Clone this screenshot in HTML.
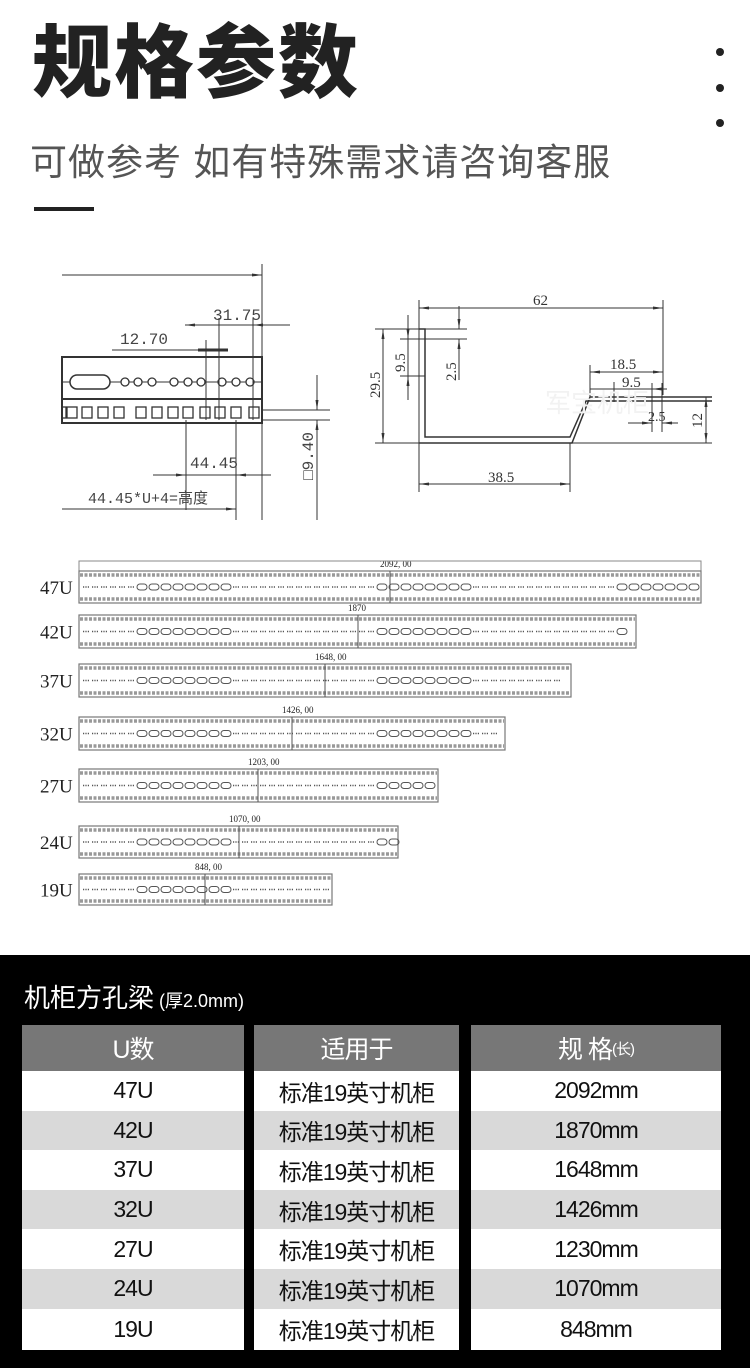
<!DOCTYPE html>
<html><head><meta charset="utf-8"><style>
body{margin:0;width:750px;height:1368px;background:#fff;position:relative;overflow:hidden;font-family:"Liberation Sans","Noto Sans CJK SC",sans-serif}
.abs{position:absolute}
.t{font-size:80px;font-weight:900;left:32px;top:24px;color:#222;letter-spacing:2px;line-height:1}
.sub{font-size:37px;left:30px;top:132px;color:#555;letter-spacing:1px;white-space:nowrap}
.dot{width:8px;height:8px;border-radius:50%;background:#222;left:716px}
.blk{left:0;top:955px;width:750px;height:413px;background:#000}
.cell{position:absolute;display:flex;align-items:center;justify-content:center;font-size:23px;color:#111;letter-spacing:-1px}
</style></head><body>
<div class="abs t">规格参数</div>
<div class="abs sub">可做参考 如有特殊需求请咨询客服</div>
<div class="abs dot" style="top:48px"></div>
<div class="abs dot" style="top:84px"></div>
<div class="abs dot" style="top:119px"></div>
<div class="abs" style="left:34px;top:207px;width:60px;height:4px;background:#222"></div>

<svg class="abs" style="left:0;top:0" width="750" height="940" xmlns="http://www.w3.org/2000/svg" font-family="Liberation Mono, monospace">
<defs><marker id="a" markerWidth="10" markerHeight="6" refX="10" refY="3" orient="auto-start-reverse"><path d="M0,1.5 L10,3 L0,4.5z" fill="#333"/></marker></defs>
<g stroke="#333" stroke-width="1" fill="none">
<line x1="62" y1="275" x2="262" y2="275" marker-end="url(#a)"/>
<line x1="262" y1="264" x2="262" y2="520"/>
<rect x="62" y="357" width="200" height="66" stroke-width="2"/>
<line x1="62" y1="399" x2="262" y2="399" stroke-width="2"/>
<line x1="62" y1="382" x2="262" y2="382"/>
<rect x="70" y="375" width="40" height="14" rx="7" fill="#fff" stroke-width="1.5"/>
<g fill="#fff" stroke-width="1.3">
<circle cx="125" cy="382" r="4"/><circle cx="138" cy="382" r="4"/><circle cx="152" cy="382" r="4"/>
<circle cx="174" cy="382" r="4"/><circle cx="188" cy="382" r="4"/><circle cx="201" cy="382" r="4"/>
<circle cx="222" cy="382" r="4"/><circle cx="236" cy="382" r="4"/><circle cx="250" cy="382" r="4"/>
</g>
<g stroke-width="1.3">
<rect x="62" y="407" width="4" height="11"/><rect x="67" y="407" width="10" height="11"/><rect x="82" y="407" width="10" height="11"/>
<rect x="98" y="407" width="10" height="11"/><rect x="114" y="407" width="10" height="11"/><rect x="136" y="407" width="10" height="11"/>
<rect x="152" y="407" width="10" height="11"/><rect x="168" y="407" width="10" height="11"/><rect x="183" y="407" width="10" height="11"/>
<rect x="200" y="407" width="10" height="11"/><rect x="215" y="407" width="10" height="11"/><rect x="231" y="407" width="10" height="11"/>
<rect x="249" y="407" width="10" height="11"/>
</g>
<line x1="185" y1="325" x2="290" y2="325"/>
<line x1="185" y1="325" x2="205" y2="325" marker-start="url(#a)"/>
<line x1="253" y1="325" x2="277" y2="325" marker-start="url(#a)"/>
<line x1="112" y1="350" x2="228" y2="350"/>
<line x1="198" y1="350" x2="228" y2="350" stroke-width="3"/>
<line x1="206" y1="340" x2="206" y2="420"/><line x1="219" y1="318" x2="219" y2="420"/><line x1="253" y1="318" x2="253" y2="420"/>
<line x1="186" y1="420" x2="186" y2="510"/><line x1="236" y1="420" x2="236" y2="520"/>
<line x1="153" y1="475" x2="186" y2="475" marker-end="url(#a)"/>
<line x1="236" y1="475" x2="271" y2="475" marker-start="url(#a)"/>
<line x1="186" y1="475" x2="236" y2="475"/>
<line x1="62" y1="509" x2="236" y2="509" marker-end="url(#a)"/>
<line x1="262" y1="410" x2="330" y2="410"/><line x1="262" y1="420" x2="330" y2="420"/>
<line x1="317" y1="375" x2="317" y2="410" marker-end="url(#a)"/>
<line x1="317" y1="450" x2="317" y2="420" marker-end="url(#a)"/>
<line x1="317" y1="450" x2="317" y2="520"/>
<line x1="419" y1="300" x2="419" y2="492"/>
<line x1="663" y1="300" x2="663" y2="395"/>
<line x1="419" y1="308" x2="663" y2="308" marker-start="url(#a)" marker-end="url(#a)"/>
<path d="M419,329 L425,329 L425,437 L570,437 L586,401 L712,401 M419,443 L572,443 L590,397 L712,397" stroke-width="1.5"/>
<line x1="375" y1="443" x2="712" y2="443"/>
<line x1="375" y1="329" x2="467" y2="329"/><line x1="400" y1="339" x2="467" y2="339"/><line x1="400" y1="376" x2="425" y2="376"/>
<line x1="383" y1="329" x2="383" y2="443" marker-start="url(#a)" marker-end="url(#a)"/>
<line x1="408" y1="315" x2="408" y2="339" marker-end="url(#a)"/>
<line x1="408" y1="400" x2="408" y2="376" marker-end="url(#a)"/>
<line x1="408" y1="339" x2="408" y2="376"/>
<line x1="459" y1="306" x2="459" y2="329" marker-end="url(#a)"/>
<line x1="459" y1="380" x2="459" y2="339" marker-end="url(#a)"/>
<line x1="590" y1="365" x2="590" y2="397"/>
<line x1="590" y1="372" x2="663" y2="372" marker-start="url(#a)" marker-end="url(#a)"/>
<line x1="614" y1="382" x2="614" y2="402"/>
<line x1="590" y1="389" x2="667" y2="389"/>
<line x1="652" y1="389" x2="667" y2="389" marker-start="url(#a)"/>
<line x1="652" y1="383" x2="652" y2="432"/><line x1="662" y1="383" x2="662" y2="432"/>
<line x1="628" y1="423" x2="652" y2="423" marker-end="url(#a)"/>
<line x1="678" y1="423" x2="662" y2="423" marker-end="url(#a)"/>
<line x1="706" y1="397" x2="706" y2="443" marker-start="url(#a)" marker-end="url(#a)"/>
<line x1="570" y1="443" x2="570" y2="492"/>
<line x1="419" y1="484" x2="570" y2="484" marker-start="url(#a)" marker-end="url(#a)"/>
</g>
<g fill="#444" font-size="16">
<text x="213" y="320">31.75</text>
<text x="120" y="344">12.70</text>
<text x="190" y="468">44.45</text>
<text x="88" y="503" font-size="15">44.45*U+4=高度</text>
<text transform="translate(313,480) rotate(-90)" font-size="16">□9.40</text>
</g>
<g fill="#333" font-family="Liberation Serif, serif" font-size="15">
<text x="533" y="305">62</text>
<text x="488" y="482">38.5</text>
<text x="610" y="369">18.5</text>
<text x="622" y="387">9.5</text>
<text x="648" y="421" font-size="14">2.5</text>
<text transform="translate(380,398) rotate(-90)">29.5</text>
<text transform="translate(405,372) rotate(-90)">9.5</text>
<text transform="translate(456,381) rotate(-90)">2.5</text>
<text transform="translate(702,428) rotate(-90)">12</text>
</g>
<text x="545" y="412" font-size="26" fill="#f2f2f2" font-family="Noto Sans CJK SC, sans-serif">军宝机柜</text>
<g id="beams"></g>
</svg>

<div class="abs blk"></div>
<div class="abs" style="left:24px;top:978px;color:#fff;font-size:26px;white-space:nowrap">机柜方孔梁<span style="font-size:18px"> (厚2.0mm)</span></div>
<div id="tbl"></div>
<script>
var g=document.getElementById('beams'),h='';
var B=[['47U',701,571,603,'2092, 00',390],['42U',636,615,648,'1870',358],['37U',571,664,697,'1648, 00',325],['32U',505,717,750,'1426, 00',292],['27U',438,769,802,'1203, 00',258],['24U',398,826,858,'1070, 00',239],['19U',332,874,905,'848, 00',205]];
B.forEach(function(b){var L=79,R=b[1],T=b[2],Bo=b[3],m=(T+Bo)/2;
h+='<text x="40" y="'+(m+7)+'" font-family="Liberation Serif,serif" font-size="19" fill="#222">'+b[0]+'</text>';
h+='<text x="'+(b[5]-10)+'" y="'+(T-4)+'" font-family="Liberation Serif,serif" font-size="9" fill="#222">'+b[4]+'</text>';
if(b[0]=='47U'){h+='<rect x="'+L+'" y="561" width="'+(R-L)+'" height="10" fill="none" stroke="#888"/>';}
h+='<rect x="'+L+'" y="'+T+'" width="'+(R-L)+'" height="'+(Bo-T)+'" fill="#fff" stroke="#777" stroke-width="1.2"/>';
h+='<line x1="'+(L+1)+'" x2="'+(R-1)+'" y1="'+(T+4)+'" y2="'+(T+4)+'" stroke="#999" stroke-width="3.5" stroke-dasharray="3 1.5"/>';
h+='<line x1="'+(L+1)+'" x2="'+(R-1)+'" y1="'+(Bo-4)+'" y2="'+(Bo-4)+'" stroke="#999" stroke-width="3.5" stroke-dasharray="3 1.5"/>';
h+='<line x1="'+b[5]+'" x2="'+b[5]+'" y1="'+T+'" y2="'+Bo+'" stroke="#555"/>';
var x=L+4;
while(x<R-8){var ph=Math.floor(((x-L)%240)/10);
 if(ph<5||ph>=15){h+='<line x1="'+x+'" x2="'+(x+6)+'" y1="'+m+'" y2="'+m+'" stroke="#555" stroke-width="1.5" stroke-dasharray="1.2 1.2"/>';x+=9;}
 else {h+='<rect x="'+x+'" y="'+(m-3)+'" width="10" height="6" rx="3" fill="none" stroke="#555"/>';x+=12;}
}});
g.innerHTML=h;
var cols=[[22,222],[254,205],[471,250]],rows=[['47U','2092mm'],['42U','1870mm'],['37U','1648mm'],['32U','1426mm'],['27U','1230mm'],['24U','1070mm'],['19U','848mm']],t='';
var hd=['U数','适用于','规 格<span style="font-size:15px"> (长)</span>'];
cols.forEach(function(c,i){t+='<div class="cell" style="left:'+c[0]+'px;top:1025px;width:'+c[1]+'px;height:46px;background:#777;color:#fff;font-size:25px">'+hd[i]+'</div>';});
rows.forEach(function(r,j){var y=1071+j*39.6,bg=j%2?'#d9d9d9':'#fff',v=[r[0],'标准19英寸机柜',r[1]];
cols.forEach(function(c,i){t+='<div class="cell" style="left:'+c[0]+'px;top:'+y+'px;width:'+c[1]+'px;height:'+(j==6?41:39.6)+'px;background:'+bg+'">'+v[i]+'</div>';});});
document.getElementById('tbl').innerHTML=t;
</script>
</body></html>
